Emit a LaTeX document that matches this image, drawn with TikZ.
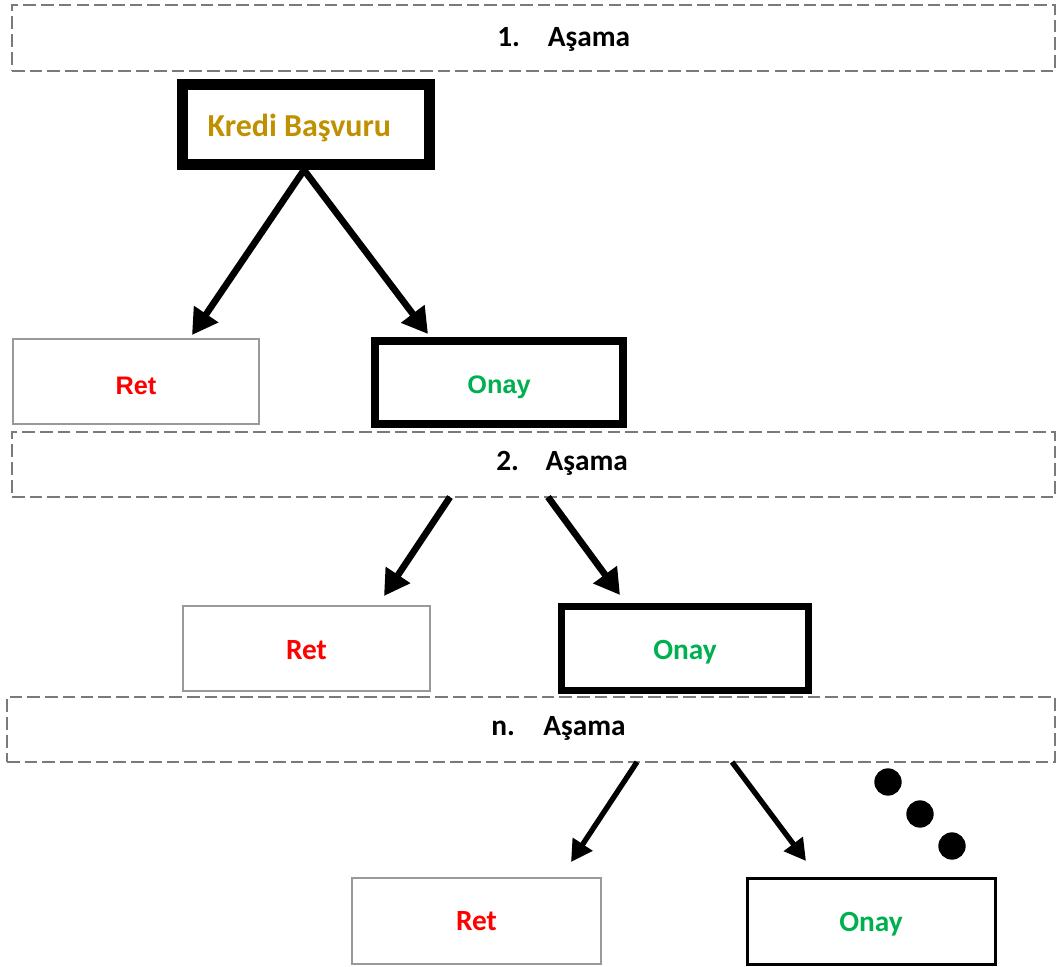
\documentclass[tikz,border=0pt]{standalone}
\usepackage{fontspec}
\setmainfont{Carlito}
\newfontfamily\arialf{Liberation Sans}
\usetikzlibrary{arrows.meta}
\definecolor{gold}{HTML}{BF9000}
\definecolor{okgreen}{HTML}{00B050}
\definecolor{nored}{HTML}{FF0000}
\definecolor{dashgray}{HTML}{7A7A7A}
\definecolor{boxgray}{HTML}{999999}
\newcommand{\lowered}[2]{\raisebox{-#1}[\height][\depth]{#2}}
\tikzset{
  stagebox/.style={draw=dashgray, line width=2.1pt, dash pattern=on 9.5pt off 3.8pt, inner sep=0pt},
  stagetext/.style={font=\bfseries\fontsize{22}{24}\selectfont, inner sep=0pt, anchor=west},
  retbox/.style={draw=boxgray, line width=2.2pt, inner sep=0pt, text=nored, font=\bfseries\fontsize{22}{24}\selectfont},
  onaybox/.style={draw=black, inner sep=0pt, text=okgreen, font=\bfseries\fontsize{22}{24}\selectfont},
  bigarrow/.style={line width=5pt, -{Triangle[length=19pt,width=21pt]}},
  smallarrow/.style={line width=4pt, -{Triangle[length=16pt,width=17pt]}},
  dot/.style={fill=black, circle, inner sep=0pt, minimum size=20.5pt}
}
\begin{document}
\begin{tikzpicture}[x=0.75pt,y=-0.75pt]
\useasboundingbox (0,0) rectangle (1057,967);
% stage boxes
\node[stagebox, minimum width=782.25pt, minimum height=49.5pt] (s1) at (533.5,38) {};
\node[stagebox, minimum width=782.25pt, minimum height=48.75pt] (s2) at (533.5,464.5) {};
\node[stagebox, minimum width=786pt, minimum height=48.75pt] (sn) at (531,729.5) {};
\node[stagetext] (s1t) at (497,39) {\makebox[38pt][l]{1.}Aşama};
\node[stagetext] (s2t) at (496,463) {\makebox[37pt][l]{2.}Aşama};
\node[stagetext] (snt) at (491,728) {\makebox[39pt][l]{n.}Aşama};
% first level
\node[draw=black, line width=8.25pt, inner sep=0pt, minimum width=185.25pt, minimum height=60pt,
      text=gold, font=\bfseries\fontsize{24}{26}\selectfont] (k) at (306,124.5) {\hspace*{-10pt}\lowered{2.25pt}{Kredi Başvuru}};
\node[retbox, minimum width=184.5pt, minimum height=63.75pt, font=\arialf\bfseries\fontsize{19}{21}\selectfont] (r1) at (136,381.5) {\lowered{3pt}{Ret}};
\node[onaybox, line width=6pt, minimum width=186pt, minimum height=62.25pt, font=\arialf\bfseries\fontsize{19}{21}\selectfont] (o1) at (499,382.5) {\lowered{3.75pt}{Onay}};
% second level
\node[retbox, minimum width=185.25pt, minimum height=63.75pt] (r2) at (306.5,648.5) {\lowered{1.5pt}{Ret}};
\node[onaybox, line width=5.25pt, minimum width=185.25pt, minimum height=63pt] (o2) at (685,648.5) {\lowered{3pt}{Onay}};
% third level
\node[retbox, minimum width=186.75pt, minimum height=64.5pt] (r3) at (476.5,921) {Ret};
\node[onaybox, line width=2.25pt, minimum width=186pt, minimum height=64.5pt] (o3) at (871,921) {\lowered{2.25pt}{Onay}};
% dots
\node[dot] (d1) at (888,782) {};
\node[dot] (d2) at (920,814) {};
\node[dot] (d3) at (952,846) {};
% arrow coordinates
\coordinate (a1e) at (192,335);
\coordinate (a2e) at (428,334);
\coordinate (a3s) at (450,497);
\coordinate (a3e) at (384,596);
\coordinate (a4s) at (548,497);
\coordinate (a4e) at (620,595);
\coordinate (a5s) at (637,762);
\coordinate (a5e) at (571,862);
\coordinate (a6s) at (732,762);
\coordinate (a6e) at (806,861);
\draw[bigarrow] ([xshift=-1.5pt]k.south) -- (a1e);
\draw[bigarrow] ([xshift=-1.5pt]k.south) -- (a2e);
\draw[bigarrow] (a3s) -- (a3e);
\draw[bigarrow] (a4s) -- (a4e);
\draw[smallarrow] (a5s) -- (a5e);
\draw[smallarrow] (a6s) -- (a6e);
\end{tikzpicture}
\end{document}
